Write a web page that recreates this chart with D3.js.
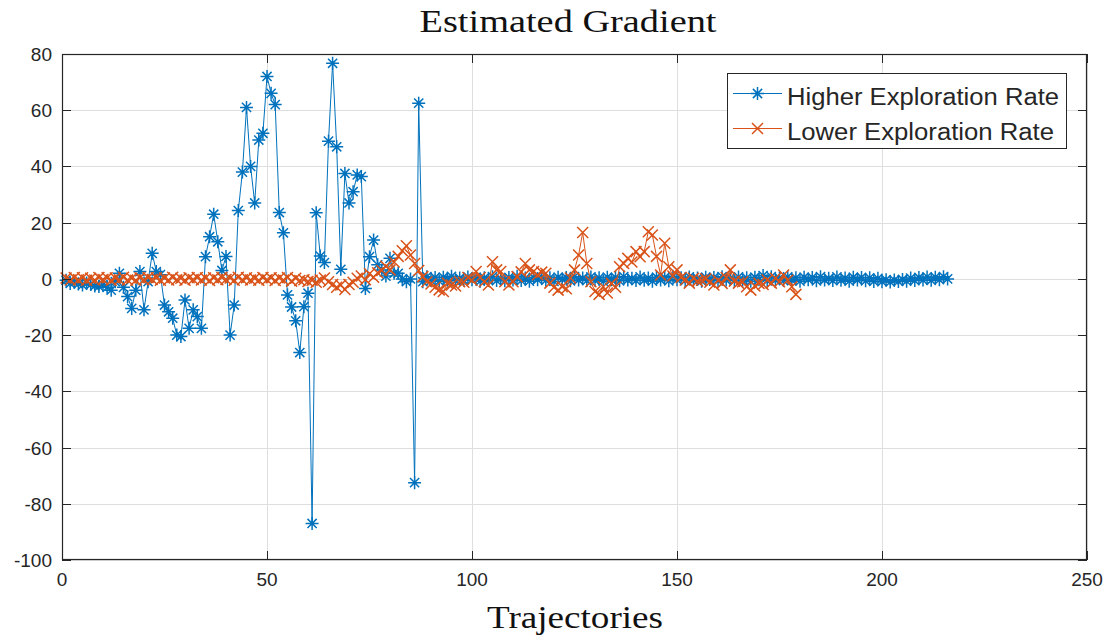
<!DOCTYPE html>
<html><head><meta charset="utf-8">
<script src="https://cdn.jsdelivr.net/npm/d3@7"></script>
<style>
body{margin:0;background:#fff;}
svg{display:block;}
</style></head>
<body>
<svg id="chart" width="1114" height="641"></svg>
<script>
const titleText = "Estimated Gradient";
const xLabelText = "Trajectories";
const seriesNames = ["Higher Exploration Rate", "Lower Exploration Rate"];
const xTicks = [0, 50, 100, 150, 200, 250];
const yTicks = [-100, -80, -60, -40, -20, 0, 20, 40, 60, 80];

// Higher exploration rate (x = 1..216)
const higherValues = [
  -0.5, -1.6, -1.2, -1.8, -2.2, -1.5, -2.0, -2.5, -2.7, -2.0,
  -3.0, -4.0, -1.0, 2.0, -3.0, -6.3, -10.5, -4.0, 2.6, -11.0,
  -1.0, 9.1, 2.6, 1.5, -9.3, -11.7, -14.0, -20.0, -20.5, -7.5,
  -17.6, -11.0, -13.4, -17.6, 7.9, 15.0, 23.0, 13.2, 3.0, 8.0,
  -20.0, -9.3, 24.3, 38.0, 61.0, 40.0, 27.0, 49.4, 51.8, 72.0,
  66.0, 62.0, 23.6, 16.4, -5.7, -10.0, -14.9, -26.2, -9.9, -5.1,
  -87.0, 23.5, 8.1, 5.8, 49.0, 76.7, 47.0, 3.4, 37.5, 27.0,
  31.0, 37.0, 36.4, -3.4, 7.9, 13.8, 5.0, 3.2, 1.0, 7.3,
  2.0, 2.0, 0.0, -1.0, 0.0, -72.5, 62.5,
  -1.0, 0.8, -0.6, 0.5, -0.8, 0.6, -0.4, 0.9, -0.7, 0.3, -0.5, 0.7, -0.3,
  0.6, -0.8, 0.4, -0.5, 0.8, -0.6, 0.2, -0.7, 0.5, -0.4, 0.9, -0.6, 0.3, -0.8, 0.5,
  -0.3, 0.7, -0.5, 0.4, -0.9, 0.6, -0.2, 0.5, -0.7, 0.8, -0.4, 0.3, -0.6, 0.7, -0.5,
  0.4, -0.8, 0.6, -0.3, 0.5, -0.7, 0.8, -0.4, 0.2, -0.6, 0.7, -0.5, 0.3, -0.8, 0.6,
  -0.4, 0.5, -0.7, 0.9, -0.3, 0.4, -0.6, 0.7, -0.5, 0.3, -0.8, 0.6, -0.2, 0.5, -0.7,
  0.8, -0.4, 0.3, -0.6, 0.7, -0.5, 0.4, -0.8, 0.6, -0.3, 1.2, -0.7, 0.8, -0.4, 0.3,
  -0.6, 0.7, -0.5, 0.4, -0.8, 0.6, -0.3, 0.5, -0.7, 0.8, -0.4, 0.2, -0.6, 0.7, -0.5,
  0.3, -0.8, 0.6, -0.4, 0.5, -0.7, 0.4, -0.9, 0.2, -1.0, -0.3, -1.1, -0.4, -0.9, -0.2,
  -0.8, 0.3, -0.6, 0.5, -0.4, 0.7, -0.5, 0.6, -0.3, 0.8, 0.0
];

// Lower exploration rate (x = 1..179)
const lowerValues = [
  0.3, -0.4, 0.5, -0.3, 0.4, -0.5, 0.2, -0.4, 0.5, -0.2,
  0.4, -0.5, 0.3, -0.3, 0.6, -0.4, 0.2, -0.5, 0.4, -0.3,
  0.5, -0.2, 0.4, -0.5, 0.3, -0.4, 0.6, -0.3, 0.2, -0.5,
  0.4, -0.2, 0.5, -0.4, 0.3, -0.6, 0.4, -0.3, 0.5, -0.2,
  0.3, -0.5, 0.6, -0.3, 0.4, -0.4, 0.2, -0.5, 0.5, -0.3,
  0.4, -0.6, 0.3, -0.4, 0.5, -0.8, 0.2, -0.6, -0.3, -0.9,
  -0.5, -1.2, -0.4, 0.3, -1.0, -2.0, -3.0, -2.2, -3.8, -2.0,
  -1.2, 0.2, 1.0, -0.3, 1.8, 0.6, 2.2, 3.0, 4.5, 3.2,
  6.0, 8.0, 10.0, 11.8, 8.5, 5.5, 3.0, 0.8, -1.0, -1.8,
  -3.0, -3.9, -4.5, -1.5, -2.2, -2.5, -1.0, -1.2, 0.5, -0.5,
  2.6, 0.5, -1.0, -2.2, 6.1, 3.2, 2.6, -1.0, -2.2, -1.0,
  0.8, 2.5, 5.5, 3.2, 2.6, 1.5, 2.4, 2.0, -1.5, -3.0,
  -4.0, -2.8, -3.5, 0.3, 3.2, 8.5, 16.5, 5.5, -1.0, -4.5,
  -5.5, -2.8, -5.0, -1.6, -3.0, 4.3, 5.5, 7.3, 6.0, 9.7,
  7.9, 9.7, 16.8, 15.6, 8.0, 1.4, 12.7, 4.3, 1.0, 3.2,
  0.5, -0.4, -1.5, 0.2, -0.8, -0.5, 0.0, -1.2, -2.2, -0.5,
  -1.6, 0.5, 3.2, -0.8, -1.5, -1.0, -2.8, -4.0, -2.5, -1.6,
  -2.0, -0.4, -1.5, 0.2, -1.0, 1.4, -0.5, -2.8, -5.5
];

const colors = ["#0072BD", "#D95319"];
const axisColor = "#262626";

const svg = d3.select("#chart");
const L = 62, R = 1087, T = 54, B = 560;
const x = d3.scaleLinear().domain([0, 250]).range([L, R]);
const y = d3.scaleLinear().domain([-100, 80]).range([B, T]);

// grid
const g = svg.append("g");
g.selectAll(".vg").data(xTicks).enter().append("line")
  .attr("x1", d => Math.round(x(d)) + 0.5).attr("x2", d => Math.round(x(d)) + 0.5)
  .attr("y1", T).attr("y2", B).attr("stroke", "#dedede").attr("stroke-width", 1);
g.selectAll(".hg").data(yTicks).enter().append("line")
  .attr("y1", d => Math.round(y(d)) + 0.5).attr("y2", d => Math.round(y(d)) + 0.5)
  .attr("x1", L).attr("x2", R).attr("stroke", "#dedede").attr("stroke-width", 1);

// data
const series = [higherValues, lowerValues].map((vals, k) => vals.map((v, i) => ({x: i + 1, y: v, k})));
const line = d3.line().x(d => x(d.x)).y(d => y(d.y));
const star = "M-6.5,0H6.5M0,-6.5V6.5M-4.6,-4.6L4.6,4.6M-4.6,4.6L4.6,-4.6";
const cross = "M-5.5,-5.5L5.5,5.5M-5.5,5.5L5.5,-5.5";
const markers = [star, cross];

const dataG = svg.append("g");
series.forEach((s, k) => {
  const sg = dataG.append("g");
  sg.append("path").datum(s).attr("d", line).attr("fill", "none")
    .attr("stroke", colors[k]).attr("stroke-width", 1);
  sg.selectAll("path.m").data(s).enter().append("path").attr("class", "m")
    .attr("d", markers[k])
    .attr("transform", d => `translate(${x(d.x)},${y(d.y)})`)
    .attr("fill", "none").attr("stroke", colors[k]).attr("stroke-width", 1.5);
});

// axes box
const ax = svg.append("g");
ax.append("rect").attr("x", L + 0.5).attr("y", T + 0.5).attr("width", R - L - 1).attr("height", B - T - 1)
  .attr("fill", "none").attr("stroke", axisColor).attr("stroke-width", 1.2);
const tl = 9;
xTicks.forEach(t => {
  const px = Math.round(x(t)) + 0.5;
  ax.append("line").attr("x1", px).attr("x2", px).attr("y1", B).attr("y2", B - tl).attr("stroke", axisColor);
  ax.append("line").attr("x1", px).attr("x2", px).attr("y1", T).attr("y2", T + tl).attr("stroke", axisColor);
  ax.append("text").attr("x", x(t)).attr("y", B + 26).attr("text-anchor", "middle")
    .attr("font-family", "Liberation Sans, Arial, sans-serif").attr("font-size", 19)
    .attr("fill", axisColor).text(t);
});
yTicks.forEach(t => {
  const py = Math.round(y(t)) + 0.5;
  ax.append("line").attr("x1", L).attr("x2", L + tl).attr("y1", py).attr("y2", py).attr("stroke", axisColor);
  ax.append("line").attr("x1", R).attr("x2", R - tl).attr("y1", py).attr("y2", py).attr("stroke", axisColor);
  ax.append("text").attr("x", L - 10).attr("y", y(t) + 7).attr("text-anchor", "end")
    .attr("font-family", "Liberation Sans, Arial, sans-serif").attr("font-size", 19)
    .attr("fill", axisColor).text(t);
});

// title and x label
svg.append("text").attr("x", 568).attr("y", 32).attr("text-anchor", "middle")
  .attr("font-family", "Liberation Serif, Times New Roman, serif").attr("font-size", 31)
  .attr("fill", "#111").attr("textLength", 297).attr("lengthAdjust", "spacingAndGlyphs").text(titleText);
svg.append("text").attr("x", 575).attr("y", 628).attr("text-anchor", "middle")
  .attr("font-family", "Liberation Serif, Times New Roman, serif").attr("font-size", 31)
  .attr("fill", "#111").attr("textLength", 176).attr("lengthAdjust", "spacingAndGlyphs").text(xLabelText);

// legend
const legendLengths = [272, 267];
const lg = svg.append("g");
lg.append("rect").attr("x", 727.5).attr("y", 73.5).attr("width", 339).attr("height", 75)
  .attr("fill", "#fff").attr("stroke", axisColor).attr("stroke-width", 1);
seriesNames.forEach((name, k) => {
  const ly = 93.5 + k * 35;
  lg.append("line").attr("x1", 733).attr("x2", 782).attr("y1", ly).attr("y2", ly)
    .attr("stroke", colors[k]).attr("stroke-width", 1);
  lg.append("path").attr("d", markers[k]).attr("transform", `translate(757.5,${ly})`)
    .attr("fill", "none").attr("stroke", colors[k]).attr("stroke-width", 1.5);
  lg.append("text").attr("x", 787).attr("y", ly + 11).attr("font-family", "Liberation Sans, Arial, sans-serif")
    .attr("font-size", 23.5).attr("fill", axisColor)
    .attr("textLength", legendLengths[k]).attr("lengthAdjust", "spacingAndGlyphs").text(name);
});
</script>
</body></html>
